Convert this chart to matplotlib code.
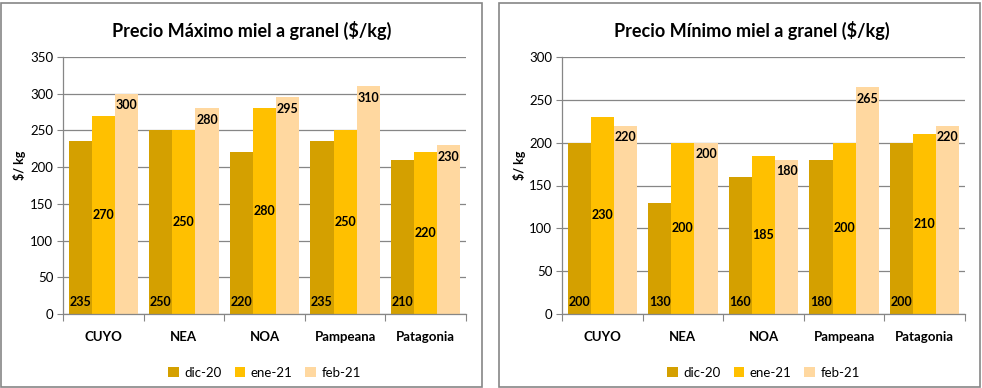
import matplotlib
matplotlib.use("Agg")
import matplotlib.pyplot as plt
from matplotlib.patches import Rectangle
import numpy as np

regiones = ["CUYO", "NEA", "NOA", "Pampeana", "Patagonia"]
meses = ["dic-20", "ene-21", "feb-21"]

# Precio maximo ($/kg)
max_dic20 = [235, 250, 220, 235, 210]
max_ene21 = [270, 250, 280, 250, 220]
max_feb21 = [300, 280, 295, 310, 230]

# Precio minimo ($/kg)
min_dic20 = [200, 130, 160, 180, 200]
min_ene21 = [230, 200, 185, 200, 210]
min_feb21 = [220, 200, 180, 265, 220]

colores = ["#D4A000", "#FFC000", "#FFD8A0"]
gris = "#868686"
FONT = ["Lato", "DejaVu Sans"]

plt.rcParams["font.family"] = FONT

fig = plt.figure(figsize=(9.82, 3.88), dpi=100)
W, H = 982, 388


def px_rect(x0, y0, x1, y1):
    return [x0 / W, 1 - y1 / H, (x1 - x0) / W, (y1 - y0) / H]


def panel(ax_rect, series, ymax, title, ylab_x, title_x):
    ax = fig.add_axes(px_rect(*ax_rect))
    x = np.arange(len(regiones))
    bw = 0.287
    for i, (vals, col) in enumerate(zip(series, colores)):
        xs = x + (i - 1) * bw
        ax.bar(xs, vals, width=bw, color=col, zorder=2, label=meses[i])
        for xi, v in zip(xs, vals):
            if i == 0:
                ax.annotate(str(v), (xi, 0), xytext=(0, 4), textcoords="offset points",
                            ha="center", va="bottom", fontsize=9, fontweight="bold")
            elif i == 1:
                ax.text(xi, v / 2, str(v), ha="center", va="center",
                        fontsize=9, fontweight="bold")
            else:
                ax.annotate(str(v), (xi, v), xytext=(0, -4), textcoords="offset points",
                            ha="center", va="top", fontsize=9, fontweight="bold")
    ax.set_xlim(-0.5, len(regiones) - 0.5)
    ax.set_ylim(0, ymax)
    ax.set_yticks(np.arange(0, ymax + 1, 50))
    ax.yaxis.grid(True, color=gris, linewidth=0.9, zorder=0)
    ax.set_axisbelow(True)
    ax.set_xticks(np.arange(-0.5, len(regiones)), minor=False)
    ax.set_xticklabels([])
    ax.set_xticks(x, minor=True)
    ax.set_xticklabels(regiones, minor=True, fontsize=9.5, fontweight="bold")
    ax.tick_params(axis="x", which="minor", length=0, pad=12)
    ax.tick_params(axis="x", which="major", length=5, color=gris)
    ax.tick_params(axis="y", length=4, color=gris, labelsize=9.5, pad=3)
    for s in ["top", "right"]:
        ax.spines[s].set_visible(False)
    for s in ["left", "bottom"]:
        ax.spines[s].set_color(gris)
        ax.spines[s].set_linewidth(0.9)
    fig.text(ylab_x / W, 1 - 165 / H, "$/ kg", rotation=90, ha="center", va="center",
             fontsize=9, fontweight="bold")
    fig.text(title_x / W, 1 - 30 / H, title, ha="center", va="center",
             fontsize=13, fontweight="bold")
    ax.legend(loc="upper center", bbox_to_anchor=(0.5, -0.16), ncol=3, frameon=False,
              fontsize=9.5, handlelength=0.8, handleheight=0.8, handletextpad=0.4,
              columnspacing=1.0)
    return ax


panel((63, 57, 466, 314), [max_dic20, max_ene21, max_feb21], 350,
      "Precio Máximo miel a granel ($/kg)", 20, 252)
panel((562, 57, 965, 314), [min_dic20, min_ene21, min_feb21], 300,
      "Precio Mínimo miel a granel ($/kg)", 519, 752)

for (x0, x1) in [(0.5, 482), (499, 980)]:
    fig.patches.append(Rectangle((x0 / W, 1.5 / H), (x1 - x0) / W, (385 - 1.5) / H,
                                 transform=fig.transFigure, fill=False,
                                 edgecolor=gris, linewidth=1.2))

fig.savefig("out.png", dpi=100)
